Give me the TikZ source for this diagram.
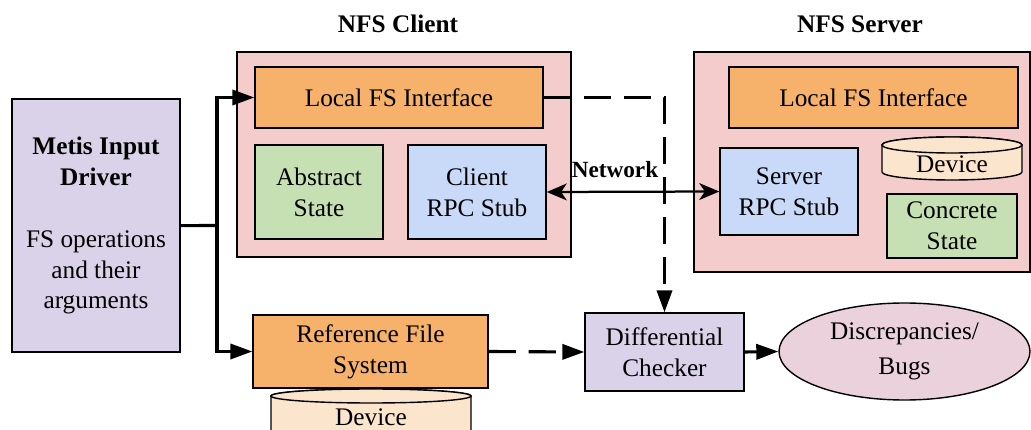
\documentclass[tikz,border=0pt]{standalone}
\usepackage{fontspec}
\setmainfont{Liberation Serif}
\usepackage{tikz}
\usetikzlibrary{shapes.geometric, arrows.meta, positioning, calc}
\usepackage{xcolor}

\definecolor{driverpurple}{HTML}{D9D2E9}
\definecolor{hostpink}{HTML}{F4CCCC}
\definecolor{fsorange}{HTML}{F6B26B}
\definecolor{stategreen}{HTML}{C6E0B4}
\definecolor{stubblue}{HTML}{C9DAF8}
\definecolor{devpeach}{HTML}{FCE5CD}
\definecolor{bugpink}{HTML}{EAD1DC}

\begin{document}
\begin{tikzpicture}[
    box/.style={draw, line width=1pt, align=center, inner sep=2pt, font=\fontsize{18}{22}\selectfont},
    host/.style={draw, line width=1pt, fill=hostpink, inner sep=0pt},
    title/.style={font=\fontsize{18}{22}\selectfont\bfseries},
    devicebox/.style={draw, line width=1pt, fill=devpeach},
    devtext/.style={font=\fontsize{18}{22}\selectfont, inner sep=0pt},
    flow/.style={line width=2.2pt, -{Triangle[length=0.55cm, width=0.38cm]}},
    dashflow/.style={flow, dash pattern=on 0.68cm off 0.32cm},
    netarrow/.style={line width=1.6pt, {Stealth[length=0.5cm, width=0.42cm, inset=0.14cm]}-{Stealth[length=0.5cm, width=0.42cm, inset=0.14cm]}}
]

\useasboundingbox (0,0) rectangle (25.775,-10.75);

% Titles
\node[title] (clientTitle) at (9.95, -0.6) {NFS Client};
\node[title] (serverTitle) at (21.5, -0.6) {NFS Server};

% Input driver
\node[box, fill=driverpurple, minimum width=4.2cm, minimum height=6.33cm] (metis) at (2.4, -5.64)
    {\textbf{Metis Input}\\\textbf{Driver}\\[22pt]FS operations\\and their\\arguments};

% NFS client
\node[host, minimum width=8.35cm, minimum height=5.125cm] (client) at (10.1, -3.8625) {};
\node[box, fill=fsorange, minimum width=7.2cm, minimum height=1.525cm] (cLFS) at (9.975, -2.4375) {Local FS Interface};
\node[box, fill=stategreen, minimum width=3.2cm, minimum height=2.35cm] (absState) at (7.975, -4.8) {Abstract\\State};
\node[box, fill=stubblue, minimum width=3.45cm, minimum height=2.35cm] (cRPC) at (11.925, -4.8) {Client\\RPC Stub};

% NFS server
\node[host, minimum width=8.4cm, minimum height=5.5cm] (server) at (21.55, -4.05) {};
\node[box, fill=fsorange, minimum width=7.225cm, minimum height=1.525cm] (sLFS) at (21.8375, -2.4375) {Local FS Interface};
\node[box, fill=stubblue, minimum width=3.45cm, minimum height=2.175cm] (sRPC) at (19.725, -4.7875) {Server\\RPC Stub};
\node[box, fill=stategreen, minimum width=3.25cm, minimum height=1.6cm] (conState) at (23.8, -5.65) {Concrete\\State};

% Server device
\draw[devicebox] (22.05,-3.625) -- (22.05,-4.3) arc[start angle=180, end angle=360, x radius=1.75, y radius=0.2]
    -- (25.55,-3.625) arc[start angle=0, end angle=180, x radius=1.75, y radius=0.2] -- cycle;
\draw[devicebox] (23.8,-3.625) ellipse[x radius=1.75, y radius=0.2];
\node[devtext] (sDev) at (23.8, -4.1) {Device};

% Reference file system
\node[box, fill=fsorange, minimum width=5.875cm, minimum height=1.825cm] (refFS) at (9.2625, -8.7875) {Reference File\\System};

% Reference device
\draw[devicebox] (6.775,-9.9) -- (6.775,-11.2) -- (11.775,-11.2) -- (11.775,-9.9)
    arc[start angle=0, end angle=180, x radius=2.5, y radius=0.175] -- cycle;
\draw[devicebox] (9.275,-9.9) ellipse[x radius=2.5, y radius=0.175];
\node[devtext] (rDev) at (9.275, -10.425) {Device};

% Checker and output
\node[box, fill=driverpurple, minimum width=3.975cm, minimum height=1.95cm] (diff) at (16.6125, -8.8) {Differential\\Checker};
\node[box, ellipse, fill=bugpink, inner sep=0pt, minimum width=6.275cm, minimum height=2.425cm] (bugs) at (22.6125, -8.7875) {Discrepancies/\\[3pt]Bugs};

% Driver fan-out
\coordinate (split) at (5.425, -5.6375);
\draw[line width=2.2pt] (metis.east) -- (split);
\draw[flow] (split) |- (cLFS.west);
\draw[flow] (split) |- (refFS.west);

% Network link
\node[font=\fontsize{16.5}{20}\selectfont\bfseries, inner sep=0pt] (netLabel) at (15.375, -4.25) {Network};
\draw[netarrow] (cRPC.east) -- (sRPC.west);

% Results to checker
\draw[dashflow] (cLFS.east) -| (diff.north);
\draw[dashflow] (refFS.east) -- (diff.west);
\draw[flow] (diff.east) -- (bugs.west);

\end{tikzpicture}
\end{document}
